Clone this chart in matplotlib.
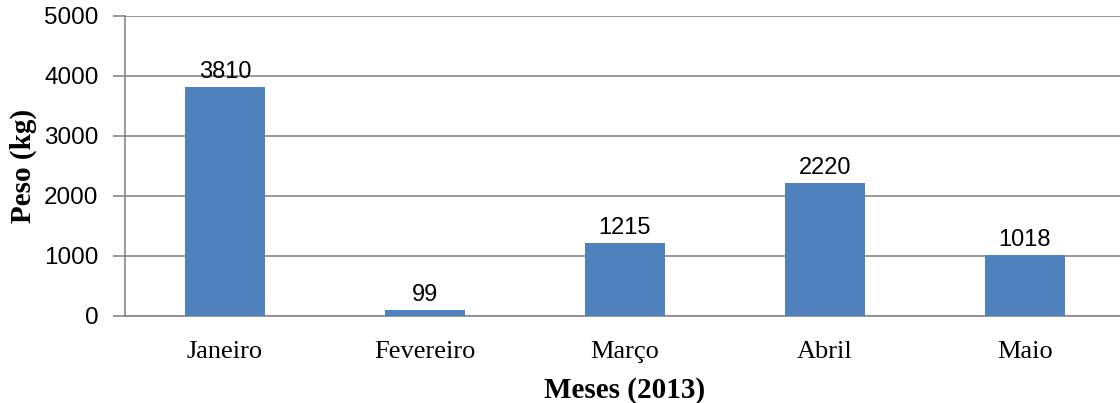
import matplotlib
matplotlib.use("Agg")
import matplotlib.pyplot as plt

months = ["Janeiro", "Fevereiro", "Março", "Abril", "Maio"]
peso = [3810, 99, 1215, 2220, 1018]
yticks = [0, 1000, 2000, 3000, 4000, 5000]

BLUE = "#4F81BD"
GRID = "#878787"
SANS = "Liberation Sans"
SERIF = "Liberation Serif"

fig = plt.figure(figsize=(11.2, 4.03), dpi=100)
ax = fig.add_axes([125/1120, 87/403, 1000/1120, 300/403])

x = list(range(len(months)))
ax.bar(x, peso, width=0.4, color=BLUE, zorder=3)
for xi, v in zip(x, peso):
    ax.annotate(str(v), (xi, v), xytext=(0, 3), textcoords="offset points",
                ha="center", va="bottom", fontsize=17, family=SANS, zorder=4)

ax.set_xlim(-0.5, len(months) - 0.5)
ax.set_ylim(0, 5000)
ax.set_yticks(yticks)
ax.set_yticklabels([str(t) for t in yticks], fontsize=17.5, family=SANS)
ax.set_xticks(x)
ax.set_xticklabels(months, fontsize=19, family=SERIF)
ax.tick_params(axis="x", length=0, pad=18)
ax.tick_params(axis="y", length=9, width=1.2, color=GRID, pad=10)

ax.grid(axis="y", color=GRID, lw=1.2, zorder=0)
for s in ["top", "right"]:
    ax.spines[s].set_visible(False)
for s in ["left", "bottom"]:
    ax.spines[s].set_color(GRID)
    ax.spines[s].set_linewidth(1.2)

ax.set_xlabel("Meses (2013)", fontsize=21, family=SERIF, fontweight="bold", labelpad=10)
ax.set_ylabel("Peso (kg)", fontsize=21, family=SERIF, fontweight="bold")
ax.yaxis.set_label_coords(-0.088, 0.5)

fig.savefig("out.png", dpi=100)
